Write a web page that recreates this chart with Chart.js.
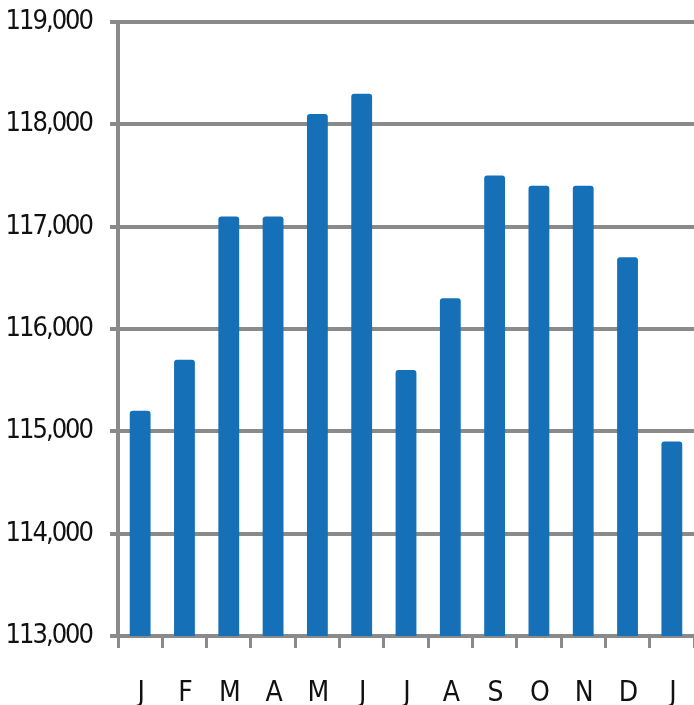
<!DOCTYPE html>
<html>
<head>
<meta charset="utf-8">
<script src="https://cdn.jsdelivr.net/npm/chart.js@4"></script>
<style>
  html, body { margin: 0; padding: 0; background: #fff; }
  #wrap { width: 694px; height: 705px; }
</style>
</head>
<body>
<div id="wrap"><canvas id="payrollChart" width="694" height="705"></canvas></div>
<script>
// Months shown along the bottom (Jan to Jan)
const months = ['J', 'F', 'M', 'A', 'M', 'J', 'J', 'A', 'S', 'O', 'N', 'D', 'J'];
// Values
const values = [115200, 115700, 117100, 117100, 118100, 118300, 115600, 116300, 117500, 117400, 117400, 116700, 114900];
// Axis range
const yMin = 113000;
const yMax = 119000;
const yStep = 1000;

const gridGray = '#8a8a8a';
const family = '"Liberation Sans Narrow", "DejaVu Sans Condensed", "Liberation Sans", sans-serif';

// tighten the letters a bit, the original uses a narrow font
const narrowText = {
    id: 'narrowText',
    beforeUpdate(chart) { chart.ctx.letterSpacing = '-2px'; },
    beforeDraw(chart) { chart.ctx.letterSpacing = '-2px'; }
};

const ctx = document.getElementById('payrollChart').getContext('2d');
new Chart(ctx, {
    type: 'bar',
    data: {
        labels: months,
        datasets: [{
            data: values,
            backgroundColor: '#1570b8',
            borderWidth: 0,
            borderRadius: 3,
            borderSkipped: 'bottom',
            categoryPercentage: 1,
            barPercentage: 0.47
        }]
    },
    plugins: [narrowText],
    options: {
        responsive: false,
        animation: false,
        layout: { padding: { top: 22, right: 0, left: 0, bottom: 0 } },
        plugins: {
            legend: { display: false },
            tooltip: { enabled: false }
        },
        scales: {
            x: {
                grid: {
                    drawOnChartArea: false,
                    drawTicks: true,
                    tickLength: 12,
                    color: gridGray,
                    lineWidth: 3
                },
                border: { display: true, color: gridGray, width: 4 },
                ticks: { color: '#111', font: { family: family, size: 28 }, padding: 29, maxRotation: 0, autoSkip: false },
                afterFit: (axis) => {
                    axis.height = 69;
                    axis.paddingLeft = 0;
                    axis.paddingRight = 0;
                }
            },
            y: {
                min: yMin,
                max: yMax,
                grid: {
                    color: gridGray,
                    lineWidth: 4,
                    tickLength: 8
                },
                border: { display: true, color: gridGray, width: 4 },
                ticks: {
                    stepSize: yStep,
                    color: '#111',
                    font: { family: family, size: 27 },
                    padding: 18,
                    callback: (v) => v.toLocaleString('en-US')
                },
                afterFit: (axis) => {
                    axis.width = 118;
                    axis.paddingTop = 0;
                    axis.paddingBottom = 0;
                }
            }
        }
    }
});
</script>
</body>
</html>
